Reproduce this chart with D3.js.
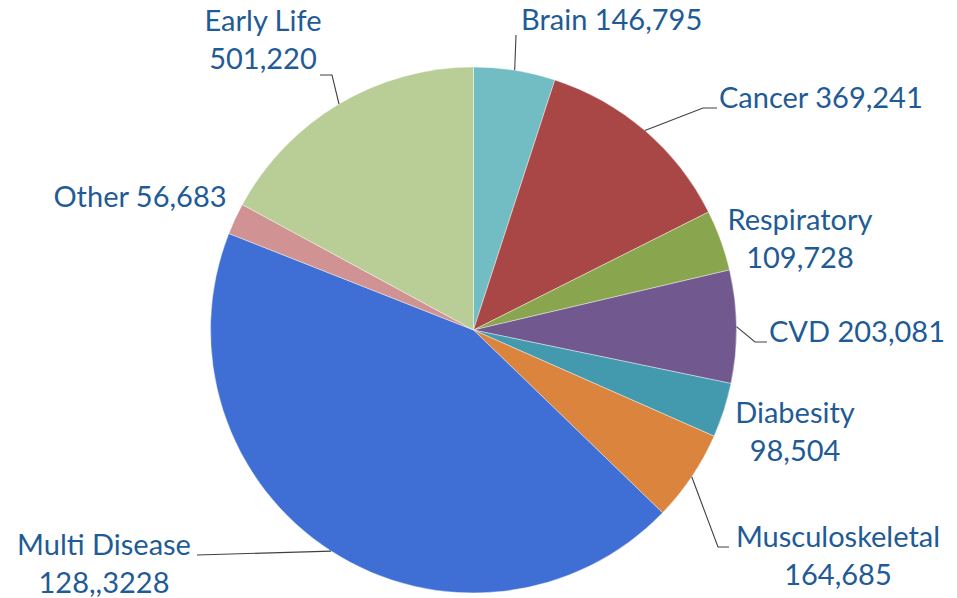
<!DOCTYPE html>
<html>
<head>
<meta charset="utf-8">
<script src="https://cdn.jsdelivr.net/npm/d3@7"></script>
<style>
	body { margin: 0; background: #fff; }
	text { font-family: Lato, "Open Sans", sans-serif; }
</style>
</head>
<body>
<div id="container"></div>
<script>
// chart data
var names = ["Brain", "Cancer", "Respiratory", "CVD", "Diabesity", "Musculoskeletal", "Multi Disease", "Other", "Early Life"];
var values = [146795, 369241, 109728, 203081, 98504, 164685, 1283228, 56683, 501220];
// label lines as printed on the chart
var labelLines = [
	["Brain 146,795"],
	["Cancer 369,241"],
	["Respiratory", "109,728"],
	["CVD 203,081"],
	["Diabesity", "98,504"],
	["Musculoskeletal", "164,685"],
	["Multi Disease", "128,,3228"],
	["Other 56,683"],
	["Early Life", "501,220"]
];
var colors = ["#72BDC4", "#A84745", "#89A54E", "#71588F", "#4399AE", "#DA843D", "#3F6FD4", "#D09292", "#B9CD97"];

// layout of labels and leader lines (x, y of text, anchor, elbow + end of leader)
var labelLayout = {
	"Brain":           { x: 521, y: 30,  anchor: "start",  leader: [[516, 35]] },
	"Cancer":          { x: 719, y: 108, anchor: "start",  leader: [[703, 108], [717, 108]] },
	"Respiratory":     { x: 800, y: 230, anchor: "middle", leader: null },
	"CVD":             { x: 769, y: 342, anchor: "start",  leader: [[755, 342], [767, 342]] },
	"Diabesity":       { x: 795, y: 423, anchor: "middle", leader: null },
	"Musculoskeletal": { x: 838, y: 547, anchor: "middle", leader: [[718, 547], [729, 547]] },
	"Multi Disease":   { x: 104, y: 555, anchor: "middle", leader: [[197, 555]] },
	"Other":           { x: 140, y: 207, anchor: "middle", leader: null },
	"Early Life":      { x: 263, y: 31,  anchor: "middle", leader: [[332, 75], [320, 75]] }
};

var width = 957, height = 598;
var cx = 473.5, cy = 330, radius = 263;
var lineHeight = 38;

var svg = d3.select("#container")
	.append("svg")
	.attr("width", width)
	.attr("height", height);

var g = svg.append("g")
	.attr("transform", "translate(" + cx + "," + cy + ")");

var data = names.map(function(n, i) { return { name: n, value: values[i], lines: labelLines[i], color: colors[i] }; });

var pie = d3.pie()
	.sort(null)
	.value(function(d) { return d.value; });

var arc = d3.arc()
	.innerRadius(0)
	.outerRadius(radius);

var arcs = pie(data);

// slices
g.selectAll("path.slice")
	.data(arcs)
	.enter().append("path")
		.attr("class", "slice")
		.attr("d", arc)
		.attr("fill", function(d) { return d.data.color; })
		.attr("stroke", "#fff")
		.attr("stroke-width", 0.4);

// leader lines, starting on the rim at mid angle
var line = d3.line();
arcs.forEach(function(d) {
	var lay = labelLayout[d.data.name];
	if (!lay.leader) return;
	var mid = (d.startAngle + d.endAngle) / 2;
	var start = [cx + radius * Math.sin(mid), cy - radius * Math.cos(mid)];
	svg.append("path")
		.attr("d", line([start].concat(lay.leader)))
		.attr("fill", "none")
		.attr("stroke", "#404040")
		.attr("stroke-width", 1.1);
});

// labels
arcs.forEach(function(d) {
	var lay = labelLayout[d.data.name];
	var t = svg.append("text")
		.attr("x", lay.x)
		.attr("y", lay.y)
		.attr("text-anchor", lay.anchor)
		.attr("fill", "#1F5B96")
		.style("font-size", "29px");
	d.data.lines.forEach(function(s, i) {
		t.append("tspan")
			.attr("x", lay.x)
			.attr("dy", i === 0 ? 0 : lineHeight)
			.text(s);
	});
});
</script>
</body>
</html>
